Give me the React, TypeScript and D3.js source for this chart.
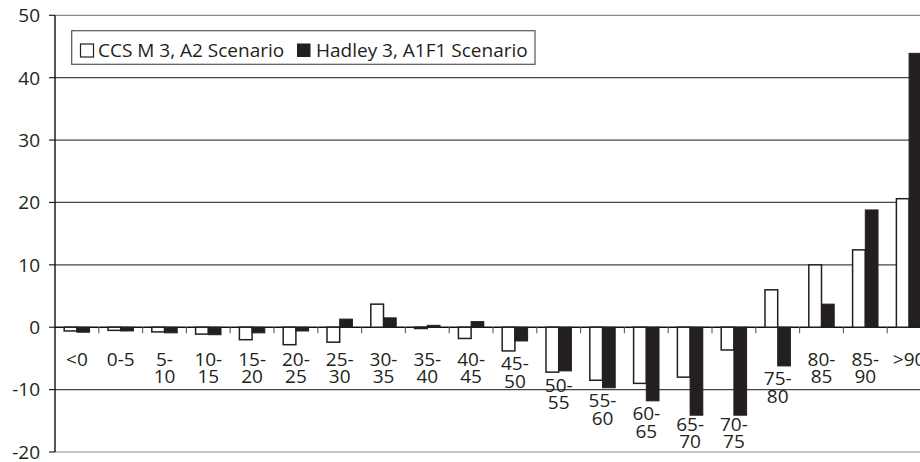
import React from "react";
import * as d3 from "d3";

const categories = ["<0","0-5","5-10","10-15","15-20","20-25","25-30","30-35","35-40","40-45","45-50","50-55","55-60","60-65","65-70","70-75","75-80","80-85","85-90",">90"];
const ccsm3A2 = [-0.6,-0.5,-0.75,-1.1,-2.0,-2.8,-2.4,3.7,-0.2,-1.8,-3.8,-7.2,-8.5,-9.0,-8.0,-3.65,6.0,10.0,12.4,20.6];
const hadley3A1F1 = [-0.8,-0.6,-0.9,-1.2,-0.9,-0.6,1.3,1.5,0.3,0.9,-2.2,-7.0,-9.7,-11.8,-14.1,-14.1,-6.2,3.7,18.8,43.9];
const yTicks = [-20,-10,0,10,20,30,40,50];
const seriesNames = ["CCS M 3, A2 Scenario", "Hadley 3, A1F1 Scenario"];

const FONT = "'Open Sans', 'Noto Sans', sans-serif";
const INK = "#231f20";

export default function App() {
  const W = 920, H = 462;
  const x0 = 55, bandW = 43.8;
  const y = d3.scaleLinear().domain([-20, 50]).range([452, 15.3]);
  const x = d3.scaleBand<string>().domain(categories).range([x0, x0 + bandW * categories.length]).paddingInner(0).paddingOuter(0);
  const bw = x.bandwidth();
  const xs = d3.scaleBand<string>().domain(["a", "b"]).range([bw * 0.21, bw * 0.79]).padding(0);
  const right = x0 + bandW * categories.length;
  const lines = (c: string) => (c.length > 3 && c.includes("-") ? [c.slice(0, c.indexOf("-") + 1), c.slice(c.indexOf("-") + 1)] : [c]);
  const barRect = (cat: string, v: number, key: "a" | "b") => {
    const top = y(Math.max(0, v));
    const bot = y(Math.min(0, v));
    return { x: (x(cat) as number) + (xs(key) as number), y: top, w: xs.bandwidth(), h: bot - top };
  };
  return (
    <svg width={W} height={H} style={{ position: "absolute", left: 0, top: 0, background: "#fff" }} fontFamily={FONT}>
      {/* gridlines */}
      {yTicks.map((t) => (
        <line key={"g" + t} x1={x0} x2={right} y1={y(t)} y2={y(t)}
          stroke={t === 0 ? "#111" : t === 50 || t === -20 ? "#8a8a8a" : "#444"} strokeWidth={t === 0 ? 1.4 : 1.2} />
      ))}
      {/* y ticks & labels */}
      {yTicks.map((t) => (
        <g key={"t" + t}>
          <line x1={x0 - 6} x2={x0} y1={y(t)} y2={y(t)} stroke="#222" strokeWidth={1.2} />
          <text x={40} y={y(t)} dy="0.36em" textAnchor="end" fontSize={19} fill={INK}>{t}</text>
        </g>
      ))}
      {/* category ticks on zero line */}
      {categories.slice(1).map((c) => (
        <line key={"ct" + c} x1={x(c)} x2={x(c)} y1={y(0)} y2={y(0) + 6} stroke="#666" strokeWidth={1.2} />
      ))}
      {/* bars */}
      {categories.map((c, i) => {
        const a = barRect(c, ccsm3A2[i], "a");
        const b = barRect(c, hadley3A1F1[i], "b");
        return (
          <g key={"b" + c}>
            <rect x={a.x} y={a.y} width={a.w} height={a.h} fill="#fff" stroke={INK} strokeWidth={1.5} />
            <rect x={b.x} y={b.y} width={b.w} height={b.h} fill={INK} stroke={INK} strokeWidth={1} />
          </g>
        );
      })}
      {/* category labels */}
      {categories.map((c, i) => {
        const low = Math.min(0, ccsm3A2[i], hadley3A1F1[i]);
        const base = Math.min(Math.max(366, y(low) + 19.5), 431);
        const cx = (x(c) as number) + bw / 2;
        return (
          <text key={"l" + c} fontSize={19} fill={INK} textAnchor="middle">
            {lines(c).map((ln, k) => (
              <tspan key={k} x={cx} y={base + k * 17.3}>{ln}</tspan>
            ))}
          </text>
        );
      })}
      {/* y axis */}
      <line x1={x0} x2={x0} y1={y(50)} y2={y(-20)} stroke="#111" strokeWidth={1.4} />
      {/* legend */}
      <rect x={71.7} y={30.7} width={463.3} height={33.6} fill="#fff" stroke="#555" strokeWidth={1.2} />
      <rect x={80.5} y={44} width={13} height={13} fill="#fff" stroke={INK} strokeWidth={1.2} />
      <text x={98} y={56.7} fontSize={19} fill={INK}>{seriesNames[0]}</text>
      <rect x={297} y={43.5} width={13.5} height={13.5} fill={INK} />
      <text x={316} y={56.7} fontSize={19} fill={INK}>{seriesNames[1]}</text>
    </svg>
  );
}
